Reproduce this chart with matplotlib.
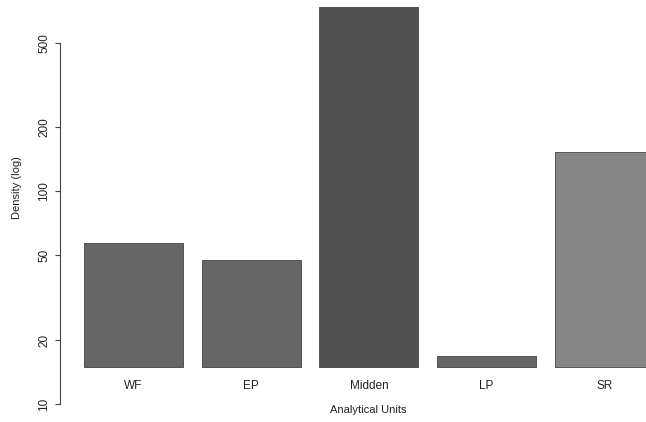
import matplotlib
matplotlib.use("Agg")
import matplotlib.pyplot as plt
import numpy as np

plt.rcParams['font.family'] = ['Liberation Sans', 'DejaVu Sans']

# values (log scale)
units = ['WF', 'EP', 'Midden', 'LP', 'SR']
density = [57.3, 47.6, 740, 16.9, 154]
colors = ['#666666', '#666666', '#515151', '#666666', '#858585']
base = 15
yticks = [10, 20, 50, 100, 200, 500]

W, H = 646, 422
fig = plt.figure(figsize=(W / 100, H / 100), dpi=100)
ax = fig.add_axes([60 / W, 0, 1 - 60 / W, 1])

x = np.arange(len(units))
heights = [d - base for d in density]
ax.bar(x, heights, bottom=base, width=0.841, color=colors,
       edgecolor='#444444', linewidth=0.6)

ax.set_yscale('log')
ax.set_ylim(8.23, 796)
ax.set_xlim(-0.6245, 4.354)

for s in ['top', 'right', 'bottom']:
    ax.spines[s].set_visible(False)
ax.spines['left'].set_bounds(10, 500)
ax.spines['left'].set_color('#444444')
ax.spines['left'].set_linewidth(0.8)

ax.set_yticks(yticks)
ax.set_yticklabels([str(t) for t in yticks], rotation=90, va='center',
                   fontsize=8.5, color='#222222')
ax.yaxis.set_minor_locator(matplotlib.ticker.NullLocator())
ax.tick_params(axis='y', length=3.5, width=0.8, color='#444444', pad=3.5)
ax.set_xticks([])

for i, u in enumerate(units):
    ax.annotate(u, xy=(x[i], base), xytext=(0, -14), textcoords='offset points',
                ha='center', va='center', fontsize=8.5, color='#222222')

fig.text(368 / W, 1 - 410 / H, 'Analytical Units', ha='center', va='center',
         fontsize=8, color='#222222')
fig.text(17 / W, 1 - 188 / H, 'Density (log)', ha='center', va='center',
         rotation=90, fontsize=8, color='#222222')

fig.savefig('out.png', dpi=100)
